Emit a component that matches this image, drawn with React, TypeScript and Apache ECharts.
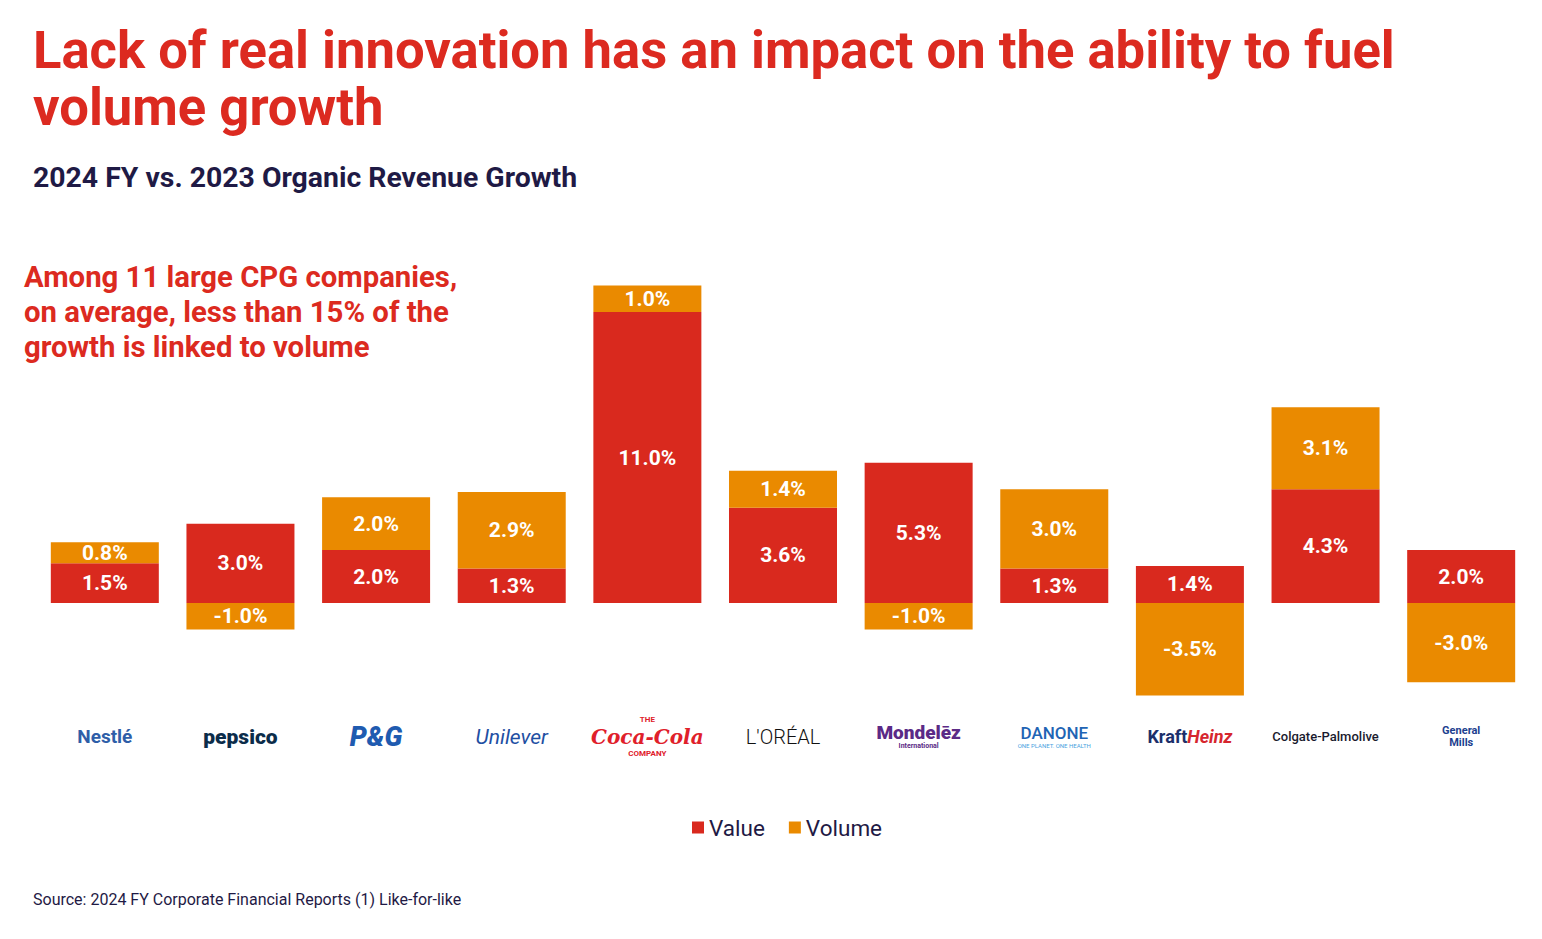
import { useEffect, useRef } from 'react'
import * as echarts from 'echarts'

// Companies, shown by name under each stack (stand-ins for the logos)
const companies = [
  'Nestlé', 'pepsico', 'P&G', 'Unilever', 'Coca-Cola', "L'ORÉAL",
  'Mondelēz', 'DANONE', 'KraftHeinz', 'Colgate-Palmolive', 'General Mills',
]
// Organic growth split, in %
const valueGrowth = [1.5, 3.0, 2.0, 1.3, 11.0, 3.6, 5.3, 1.3, 1.4, 4.3, 2.0]
const volumeGrowth = [0.8, -1.0, 2.0, 2.9, 1.0, 1.4, -1.0, 3.0, -3.5, 3.1, -3.0]

const RED = '#d9291e'
const ORANGE = '#ea8a00'
const NAVY = '#1f1a45'
const FONT = 'Roboto, "Noto Sans", sans-serif'

// rich style key per company label
const logoStyles: Record<string, object> = {
  c0: { color: '#2e5ea8', fontSize: 19, fontWeight: 700 },
  c1: { color: '#0b2c4a', fontSize: 21, fontWeight: 900 },
  c2: { color: '#1f5bb0', fontSize: 27, fontWeight: 900, fontStyle: 'italic' },
  c3: { color: '#1f4fa3', fontSize: 21, fontStyle: 'italic' },
  c4s: { color: '#e0202a', fontSize: 8, fontWeight: 700, lineHeight: 10 },
  c4: { color: '#e0202a', fontSize: 20, fontWeight: 700, fontStyle: 'italic', fontFamily: '"DejaVu Serif", serif', lineHeight: 24 },
  c5: { color: '#111111', fontSize: 20, fontWeight: 300 },
  c6: { color: '#5b2a86', fontSize: 19, fontWeight: 900, lineHeight: 18 },
  c6s: { color: '#5b2a86', fontSize: 7, fontWeight: 700, lineHeight: 8 },
  c7: { color: '#1f64b4', fontSize: 17, fontWeight: 500, lineHeight: 17 },
  c7s: { color: '#4aa3e0', fontSize: 6, lineHeight: 8 },
  c8a: { color: '#1c2f6b', fontSize: 18, fontWeight: 700 },
  c8b: { color: '#d6262e', fontSize: 18, fontWeight: 700, fontStyle: 'italic' },
  c9: { color: '#1a1a2e', fontSize: 13, fontWeight: 500 },
  c10: { color: '#1d3f8f', fontSize: 11, fontWeight: 700, lineHeight: 12 },
}

function logoLabel(name: string, i: number): string {
  if (i === 4) return '{c4s|THE}\n{c4|Coca-Cola}\n{c4s|COMPANY}'
  if (i === 6) return '{c6|Mondelēz}\n{c6s|International}'
  if (i === 7) return '{c7|DANONE}\n{c7s|ONE PLANET. ONE HEALTH}'
  if (i === 8) return '{c8a|Kraft}{c8b|Heinz}'
  if (i === 10) return '{c10|General\nMills}'
  return `{c${i}|${name}}`
}

export default function App() {
  const ref = useRef<HTMLDivElement>(null)

  useEffect(() => {
    if (!ref.current) return
    const chart = echarts.init(ref.current, undefined, { renderer: 'svg' })

    const barLabel = {
      show: true,
      position: 'inside' as const,
      color: '#ffffff',
      fontSize: 21,
      fontWeight: 700 as const,
      fontFamily: FONT,
      formatter: (p: { value: number }) => `${p.value.toFixed(1)}%`,
    }

    chart.setOption({
      animation: false,
      backgroundColor: '#ffffff',
      textStyle: { fontFamily: FONT },
      title: [
        {
          text: 'Lack of real innovation has an impact on the ability to fuel\nvolume growth',
          left: 28,
          top: 16,
          textStyle: { color: '#dc2a20', fontSize: 52.6, fontWeight: 700, lineHeight: 57, fontFamily: FONT },
        },
        {
          text: '2024 FY vs. 2023 Organic Revenue Growth',
          left: 28,
          top: 158,
          textStyle: { color: NAVY, fontSize: 28.4, fontWeight: 700, fontFamily: FONT },
        },
        {
          text: 'Among 11 large CPG companies,\non average, less than 15% of the\ngrowth is linked to volume',
          left: 19,
          top: 254,
          textStyle: { color: '#dc2a20', fontSize: 29.3, fontWeight: 700, lineHeight: 35, fontFamily: FONT },
        },
        {
          text: 'Source: 2024 FY Corporate Financial Reports (1) Like-for-like',
          left: 28,
          top: 886,
          textStyle: { color: NAVY, fontSize: 16, fontWeight: 400, fontFamily: FONT },
        },
      ],
      legend: {
        data: ['Value', 'Volume'],
        left: 687,
        top: 811,
        icon: 'rect',
        itemWidth: 12,
        itemHeight: 12,
        itemGap: 24,
        textStyle: { color: NAVY, fontSize: 22.5, fontFamily: FONT },
      },
      grid: { left: 37, right: 13, top: 285.6, height: 423.2 },
      xAxis: {
        type: 'category',
        data: companies,
        position: 'bottom',
        axisLine: { show: false, onZero: false },
        axisTick: { show: false },
        axisLabel: {
          margin: 28,
          interval: 0,
          verticalAlign: 'middle',
          formatter: (v: string) => logoLabel(v, companies.indexOf(v)),
          rich: logoStyles,
        },
      },
      yAxis: {
        type: 'value',
        min: -4,
        max: 12,
        show: false,
      },
      series: [
        {
          name: 'Value',
          type: 'bar',
          stack: 'growth',
          data: valueGrowth,
          barWidth: 108,
          itemStyle: { color: RED },
          label: barLabel,
        },
        {
          name: 'Volume',
          type: 'bar',
          stack: 'growth',
          data: volumeGrowth,
          barWidth: 108,
          itemStyle: { color: ORANGE },
          label: barLabel,
        },
      ],
    })

    return () => chart.dispose()
  }, [])

  return (
    <div
      ref={ref}
      style={{ position: 'absolute', left: 0, top: 0, width: 1542, height: 939 }}
    />
  )
}
